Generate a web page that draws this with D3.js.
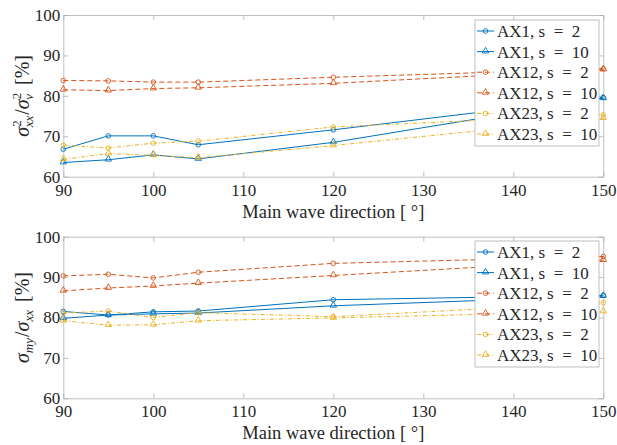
<html>
<head>
<script src="https://d3js.org/d3.v7.min.js"></script>
<style>
  body { margin: 0; background: #fff; }
</style>
</head>
<body>
<div id="vis"></div>
<script>
// wave directions (x values)
var dirs = [90, 95, 100, 105, 120, 150];
var seriesNames = ["AX1, s = 2", "AX1, s = 10", "AX12, s = 2", "AX12, s = 10", "AX23, s = 2", "AX23, s = 10"];
var xTicks = [90, 100, 110, 120, 130, 140, 150];
var yTicks = [60, 70, 80, 90, 100];

// top panel: sigma_xx^2 / sigma_v^2 [%]
var topAX1s2   = [66.8, 70.1, 70.1, 67.9, 71.6, 79.6];
var topAX1s10  = [63.5, 64.2, 65.4, 64.4, 68.5, 79.4];
var topAX12s2  = [83.8, 83.7, 83.4, 83.4, 84.6, 86.7];
var topAX12s10 = [81.5, 81.3, 81.8, 82.0, 83.1, 86.5];
var topAX23s2  = [67.8, 67.1, 68.3, 68.8, 72.3, 75.3];
var topAX23s10 = [64.3, 65.7, 65.3, 64.7, 67.7, 74.5];

// bottom panel: sigma_my / sigma_xx [%]
var botAX1s2   = [81.5, 80.6, 81.4, 81.6, 84.4, 85.5];
var botAX1s10  = [79.8, 80.6, 80.9, 81.1, 82.9, 85.3];
var botAX12s2  = [90.3, 90.7, 89.8, 91.2, 93.4, 95.1];
var botAX12s10 = [86.6, 87.3, 87.8, 88.5, 90.4, 94.2];
var botAX23s2  = [81.1, 81.6, 80.0, 81.2, 80.2, 83.7];
var botAX23s10 = [79.2, 78.1, 78.2, 79.2, 79.9, 81.5];

var styles = [
  { color: "#0072BD", dash: null, marker: "circle" },
  { color: "#0072BD", dash: null, marker: "triangle" },
  { color: "#D95319", dash: "5,3", marker: "circle" },
  { color: "#D95319", dash: "5,3", marker: "triangle" },
  { color: "#EDB120", dash: "4,2,1,2", marker: "circle" },
  { color: "#EDB120", dash: "4,2,1,2", marker: "triangle" }
];

var W = 617, H = 445;
var svg = d3.select("#vis").append("svg")
  .attr("width", W).attr("height", H);

var x = d3.scaleLinear().domain([90, 150]).range([63.3, 603.3]);

var panels = [
  { top: 15, bottom: 176.7, series: [topAX1s2, topAX1s10, topAX12s2, topAX12s10, topAX23s2, topAX23s10],
    label: [
      { t: "σ", it: true },
      { t: "2", size: 13, dy: -8 },
      { t: "xx", it: true, size: 13, dx: -7, dy: 12 },
      { t: "/", dy: -4, dx: 1 },
      { t: "σ", it: true },
      { t: "2", size: 13, dy: -8 },
      { t: "v", it: true, size: 13, dx: -7, dy: 12 },
      { t: " [%]", dy: -4, dx: 4 }
    ], legendTop: 20 },
  { top: 236.7, bottom: 398.3, series: [botAX1s2, botAX1s10, botAX12s2, botAX12s10, botAX23s2, botAX23s10],
    label: [
      { t: "σ", it: true },
      { t: "my", it: true, size: 13, dy: 4 },
      { t: "/", dy: -4, dx: 1 },
      { t: "σ", it: true },
      { t: "xx", it: true, size: 13, dy: 4 },
      { t: " [%]", dy: -4, dx: 3 }
    ], legendTop: 241 }
];

var axisColor = "#b0b0b0";
var serif = "'Liberation Serif', serif";

panels.forEach(function (p) {
  var y = d3.scaleLinear().domain([60, 100]).range([p.bottom, p.top]);
  var g = svg.append("g");

  // box with inward ticks on all four sides
  g.append("g").attr("transform", "translate(0," + p.bottom + ")")
    .call(d3.axisBottom(x).tickValues(xTicks).tickSizeInner(-5).tickSizeOuter(0).tickPadding(7));
  g.append("g").attr("transform", "translate(0," + p.top + ")")
    .call(d3.axisTop(x).tickValues(xTicks).tickSizeInner(-5).tickSizeOuter(0).tickFormat(""));
  g.append("g").attr("transform", "translate(" + x(90) + ",0)")
    .call(d3.axisLeft(y).tickValues(yTicks).tickSizeInner(-5).tickSizeOuter(0).tickPadding(3));
  g.append("g").attr("transform", "translate(" + x(150) + ",0)")
    .call(d3.axisRight(y).tickValues(yTicks).tickSizeInner(-5).tickSizeOuter(0).tickFormat(""));

  g.selectAll(".domain, .tick line").attr("stroke", axisColor).attr("stroke-width", 0.8);
  g.selectAll(".tick text").attr("font-size", 17).attr("font-family", serif).attr("fill", "#262626");

  // x label
  g.append("text")
    .attr("x", (x(90) + x(150)) / 2)
    .attr("y", p.bottom + 41)
    .attr("text-anchor", "middle")
    .attr("font-size", 18.5)
    .attr("font-family", serif)
    .attr("fill", "#262626")
    .text("Main wave direction [ °]");

  // y label
  var yl = g.append("text")
    .attr("transform", "translate(29," + ((p.top + p.bottom) / 2) + ") rotate(-90)")
    .attr("text-anchor", "middle")
    .attr("font-size", 20)
    .attr("font-family", serif)
    .attr("fill", "#262626");
  p.label.forEach(function (s) {
    yl.append("tspan")
      .attr("font-size", s.size || 20)
      .attr("font-style", s.it ? "italic" : "normal")
      .attr("dx", s.dx || 0)
      .attr("dy", s.dy || 0)
      .text(s.t);
  });

  // series
  var line = d3.line().x(function (d, i) { return x(dirs[i]); }).y(function (d) { return y(d); });
  p.series.forEach(function (vals, k) {
    var st = styles[k];
    g.append("path")
      .datum(vals)
      .attr("d", line)
      .attr("fill", "none")
      .attr("stroke", st.color)
      .attr("stroke-width", 1)
      .attr("stroke-dasharray", st.dash);
    drawMarkers(g, vals.map(function (v, i) { return [x(dirs[i]), y(v)]; }), st);
  });

  // legend
  var lx = 475, lw = 124, rowH = 20.6, lh = 126;
  var lg = g.append("g");
  lg.append("rect")
    .attr("x", lx).attr("y", p.legendTop).attr("width", lw).attr("height", lh)
    .attr("fill", "#fff").attr("stroke", axisColor).attr("stroke-width", 0.8);
  seriesNames.forEach(function (name, k) {
    var st = styles[k];
    var cy = p.legendTop + 11 + k * rowH;
    lg.append("line")
      .attr("x1", lx + 2).attr("x2", lx + 19).attr("y1", cy).attr("y2", cy)
      .attr("stroke", st.color).attr("stroke-width", 1)
      .attr("stroke-dasharray", st.dash);
    drawMarkers(lg, [[lx + 10.5, cy]], st);
    lg.append("text")
      .attr("x", lx + 22).attr("y", cy + 6)
      .attr("font-size", 17)
      .attr("font-family", serif)
      .attr("fill", "#262626")
      .text(name.replace(" = ", "\u2002=\u2002"));
  });
});

function drawMarkers(g, pts, st) {
  if (st.marker === "circle") {
    g.selectAll(null).data(pts).enter().append("circle")
      .attr("cx", function (d) { return d[0]; })
      .attr("cy", function (d) { return d[1]; })
      .attr("r", 2.3)
      .attr("fill", "none")
      .attr("stroke", st.color)
      .attr("stroke-width", 0.9);
  } else {
    var tri = d3.symbol().type(d3.symbolTriangle).size(18);
    g.selectAll(null).data(pts).enter().append("path")
      .attr("transform", function (d) { return "translate(" + d[0] + "," + (d[1] - 0.5) + ")"; })
      .attr("d", tri)
      .attr("fill", "none")
      .attr("stroke", st.color)
      .attr("stroke-width", 0.9);
  }
}
</script>
</body>
</html>
